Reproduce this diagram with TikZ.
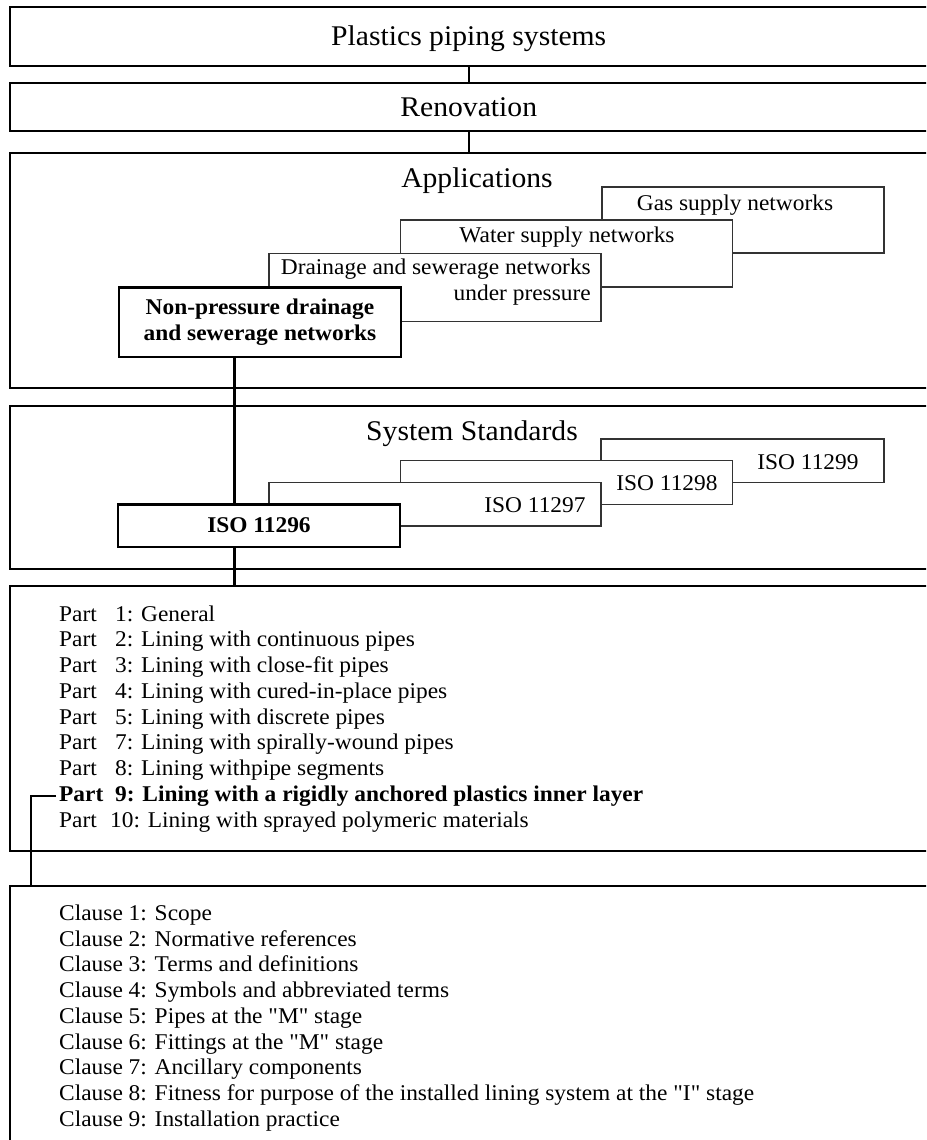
\documentclass[tikz,border=0pt]{standalone}
\usepackage{fontspec}
\setmainfont{Liberation Serif}[FakeStretch=1.04]
\newfontfamily\plainfont{Liberation Serif}[FakeStretch=1.04]
\newcommand\dq{{\plainfont"}}
\newcommand\listsize{\fontsize{22.5}{26}\selectfont}
\newcommand\headsize{\fontsize{28.5}{33}\selectfont}
\newcommand\partslot[1]{\makebox[#1][l]{Part}}
\begin{document}
\begin{tikzpicture}[x=1pt,y=-1pt,
  frame/.style={draw=black, line width=2pt, fill=white, anchor=north west, inner sep=0pt, outer sep=0pt, minimum width=918.5pt},
  headin/.style={font=\headsize, text height=19pt, text depth=0pt},
  backbox/.style={draw=black!80, line width=1.1pt, fill=white, anchor=north west, inner sep=0pt, outer sep=0pt},
  frontbox/.style={draw=black, line width=2.6pt, fill=white, anchor=north west, inner sep=0pt, outer sep=0pt, font=\bfseries\listsize, align=center},
  head/.style={font=\headsize, inner sep=0pt},
  lbl/.style={font=\listsize, inner sep=0pt},
  item/.style={font=\listsize, anchor=west, inner xsep=3pt, inner ysep=0pt, text height=15.5pt, text depth=5pt},
  link/.style={draw=black, line width=2.2pt}
]
\useasboundingbox (0,0) rectangle (926,1140);
\clip (0,0) rectangle (926,1140);
\fill[white] (0,0) rectangle (926,1140);

% main frames
\node[frame, minimum height=59pt, headin] (sys) at (9.5,7) {Plastics piping systems};
\node[frame, minimum height=47.7pt, headin] (ren) at (9.5,83.3) {Renovation};
\node[frame, minimum height=235pt] (app) at (9.5,152.7) {};
\node[frame, minimum height=163.6pt] (std) at (9.5,405.7) {};
\node[frame, minimum height=264.7pt] (parts) at (9.5,586) {};
\node[frame, minimum height=300pt] (clauses) at (9.5,886) {};

\draw[link] (sys.south) -- (ren.north);
\draw[link] (ren.south) -- (app.north);

% applications
\node[head] (applbl) at (477,181) {Applications};
\node[backbox, minimum width=282pt, minimum height=66pt] (gasbox) at (602,187) {};
\node[lbl] (gas) at (735,205) {Gas supply networks};
\node[backbox, minimum width=332pt, minimum height=67pt] (waterbox) at (400.5,220) {};
\node[lbl] (water) at (567,237) {Water supply networks};
\node[backbox, minimum width=332pt, minimum height=68.4pt] (drainbox) at (269,253.3) {};
\node[lbl, align=right, anchor=east] (drain) at (591,282) {Drainage and sewerage networks\\under pressure};
\node[frontbox, minimum width=282pt, minimum height=69.5pt] (np) at (119,287.3) {Non-pressure drainage\\and sewerage networks};

% system standards
\node[head] (stdlbl) at (472,434) {System Standards};
\node[backbox, minimum width=283pt, minimum height=43.3pt] (iso9box) at (601,439) {};
\node[lbl] (iso9) at (808,462.5) {ISO 11299};
\node[backbox, minimum width=332pt, minimum height=43.6pt] (iso8box) at (400.5,460.7) {};
\node[lbl] (iso8) at (667,483.5) {ISO 11298};
\node[backbox, minimum width=332pt, minimum height=43.7pt] (iso7box) at (269,482.3) {};
\node[lbl] (iso7) at (535,505.5) {ISO 11297};
\node[frontbox, minimum width=282pt, minimum height=42.5pt] (iso6) at (118,504.3) {ISO 11296};

\coordinate (lx) at (234.5,0);
\draw[link] (np.south -| lx) -- (iso6.north -| lx);
\draw[link] (iso6.south -| lx) -- (parts.north -| lx);

% parts
\node[item] (p1) at (56,616) {\partslot{56pt}1: General};
\node[item] (p2) at (56,641.7) {\partslot{56pt}2: Lining with continuous pipes};
\node[item] (p3) at (56,667.4) {\partslot{56pt}3: Lining with close-fit pipes};
\node[item] (p4) at (56,693.2) {\partslot{56pt}4: Lining with cured-in-place pipes};
\node[item] (p5) at (56,718.9) {\partslot{56pt}5: Lining with discrete pipes};
\node[item] (p7) at (56,744.6) {\partslot{56pt}7: Lining with spirally-wound pipes};
\node[item] (p8) at (56,770.3) {\partslot{56pt}8: Lining withpipe segments};
\node[item, font=\bfseries\listsize] (p9) at (56,796.0) {\partslot{56pt}9: Lining with a rigidly anchored plastics inner layer};
\node[item] (p10) at (56,821.8) {\partslot{51pt}10: Lining with sprayed polymeric materials};

\coordinate (c9) at ([xshift=21.5pt]clauses.north west);
\draw[link] (p9.west) -| (c9);

% clauses
\node[item] (c1) at (56,915) {Clause 1: Scope};
\node[item] (c2) at (56,940.75) {Clause 2: Normative references};
\node[item] (c3) at (56,966.5) {Clause 3: Terms and definitions};
\node[item] (c4) at (56,992.25) {Clause 4: Symbols and abbreviated terms};
\node[item] (c5) at (56,1018) {Clause 5: Pipes at the \dq M\dq{} stage};
\node[item] (c6) at (56,1043.75) {Clause 6: Fittings at the \dq M\dq{} stage};
\node[item] (c7) at (56,1069.5) {Clause 7: Ancillary components};
\node[item] (c8) at (56,1095.25) {Clause 8: Fitness for purpose of the installed lining system at the \dq I\dq{} stage};
\node[item] (cl9) at (56,1121) {Clause 9: Installation practice};
\end{tikzpicture}
\end{document}
